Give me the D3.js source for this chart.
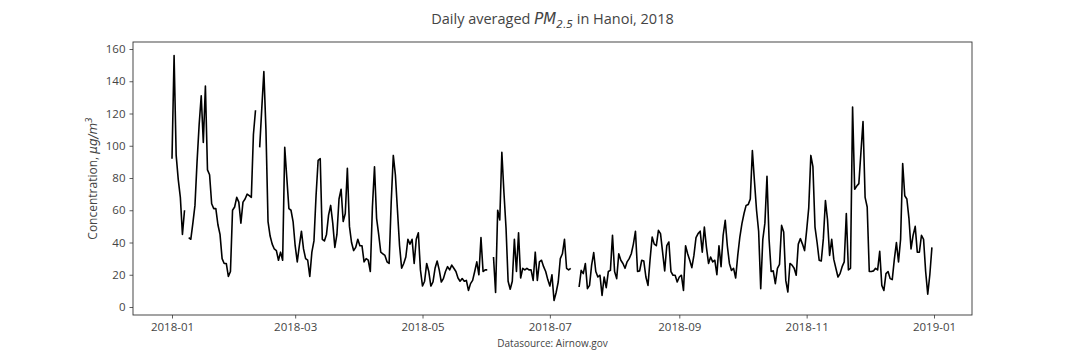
<!DOCTYPE html>
<html><head><meta charset="utf-8">
<script src="https://cdn.jsdelivr.net/npm/d3@7"></script>
<style>
body{margin:0;background:#fff;}
text{font-family:"Open Sans",sans-serif;}
</style></head>
<body><svg id="c" width="1080" height="360"></svg>
<script>
// Daily averaged PM2.5 (µg/m³), Hanoi 2018, one array per month (null = missing)
const jan = [92,156,94,79,68,45,60,null,43,42,52,63,90,113,131,102,137,85,82,64,61,61,51,45,30,27,27,19,22,60,62];
const feb = [68,65,52,65,67,70,69,68,107,122,null,99,123,146,110,53,44,39,36,35,29,34,29,99,80,61,60,53];
const mar = [38,28,38,47,36,30,29,19,34,41,69,91,92,42,41,45,57,63,52,37,45,67,73,53,58,86,50,40,35,37,42];
const apr = [38,38,28,30,29,22,62,87,55,45,34,33,32,28,27,65,94,82,60,38,24,27,31,42,39,42,27,42,46,23];
const may = [13,16,27,22,13,15.5,24,28.5,23,15.5,17.6,22,25,23,26,24,22,18,16,17.6,16,16.5,10.3,14.5,16.5,22,28,20,43,22,23];
const jun = [23,null,null,31,9,60,54,96,71,49,16,11,16,42,22,46,18,24,23,24,23,23,16.5,34,16.5,28,29,25,22,17];
const jul = [13,20,4,9,15.5,30,33,42,24,23,24,null,null,null,12.4,22.7,20.7,27,11.4,13.4,26,33.7,22,18.6,19.7,7.2,18.6,12,22,22.7,44.5];
const aug = [22,17.6,33,29,27,24,28,30,33,39,47,22,22.4,29,28.5,18.6,13.4,29.5,43.4,39,38,47.5,45.5,34,22.4,38,40.3,22,19.7,19.7,15.5];
const sep = [18.6,19.7,10.3,38,33,29,24.4,32,43,45.5,47,34,49.6,37,27,31,28,29,20,38,25,44.5,53.7,38,27,22.7,24,18,32,43.4];
const oct = [51.7,58,63,63.5,67,97,78,60,47,11.4,42,52,81,42,22,22.4,14.5,24,26.5,50.6,46.5,16.5,9.3,27,26,24,19.7,39,42.4,39,35];
const nov = [47.5,61.5,94,87,49.6,40,29,28.5,42.4,66,54,32,42,29.5,24,18.6,20.7,25,28,58,23,24,124,73,75,76.5,96,115,68,62];
const dec = [22,22,22.4,24,23,34.5,13.4,10.3,20.7,22,17.6,17,29.5,40,28,42,89,69,67,55,36,44.5,50,34,34,44.5,42,22,8,20,37];
const months = [jan,feb,mar,apr,may,jun,jul,aug,sep,oct,nov,dec];
const yTicks = [0,20,40,60,80,100,120,140,160];
const xTickDates = ["2018-01-01","2018-03-01","2018-05-01","2018-07-01","2018-09-01","2018-11-01","2019-01-01"];

const data = [];
months.forEach((arr, m) => arr.forEach((v, i) => data.push({date: new Date(Date.UTC(2018, m, i + 1)), v})));

const svg = d3.select("#c");
const L = 133, R = 972, T = 42, B = 315;
const dayMs = 864e5;
const t0 = Date.UTC(2018,0,1), t1 = Date.UTC(2019,0,1);
const pxPerMs = (934 - 172) / (t1 - t0);
const x = d3.scaleUtc()
  .domain([new Date(t0 - (172 - L) / pxPerMs), new Date(t1 + (R - 934) / pxPerMs)])
  .range([L, R]);
const y = d3.scaleLinear().domain([(307 - B) / 1.6125, (307 - T) / 1.6125]).range([B, T]);

const line = d3.line().defined(d => d.v != null).x(d => x(d.date)).y(d => y(d.v));
svg.append("path").datum(data).attr("d", line)
  .attr("fill", "none").attr("stroke", "#000").attr("stroke-width", 1.6).attr("stroke-linejoin", "round");

// axes
const xAxis = d3.axisBottom(x).tickValues(xTickDates.map(s => new Date(s + "T00:00:00Z")))
  .tickFormat(d3.utcFormat("%Y-%m")).tickSizeOuter(0).tickSize(3.5).tickPadding(4);
const gx = svg.append("g").attr("transform", `translate(0,${B})`).call(xAxis);
const yAxis = d3.axisLeft(y).tickValues(yTicks).tickSizeOuter(0).tickSize(3.5).tickPadding(4);
const gy = svg.append("g").attr("transform", `translate(${L},0)`).call(yAxis);
[gx, gy].forEach(g => {
  g.select(".domain").remove();
  g.selectAll(".tick line").attr("stroke", "#333").attr("stroke-width", 0.8);
  g.selectAll(".tick text").attr("fill", "#444").style("font-size", "11.5px").style("font-family", "Open Sans");
});
svg.append("rect").attr("x", L).attr("y", T).attr("width", R - L).attr("height", B - T)
  .attr("fill", "none").attr("stroke", "#333").attr("stroke-width", 0.9);

// title
const title = svg.append("text").attr("x", (L + R) / 2).attr("y", 24).attr("text-anchor", "middle")
  .attr("fill", "#444").style("font-size", "14.5px");
title.append("tspan").text("Daily averaged ");
title.append("tspan").text("PM").style("font-style", "italic").style("font-family", "DejaVu Sans").style("font-size", "15px");
title.append("tspan").text("2.5").attr("dy", 4).style("font-size", "10.5px").style("font-style", "italic").style("font-family", "DejaVu Sans");
title.append("tspan").text(" in Hanoi, 2018").attr("dy", -4);

// y label
const yl = svg.append("text").attr("transform", `translate(97,${(T + B) / 2}) rotate(-90)`)
  .attr("text-anchor", "middle").attr("fill", "#444").style("font-size", "12px");
yl.append("tspan").text("Concentration, ");
yl.append("tspan").text("μg/m").style("font-style", "italic").style("font-family", "DejaVu Sans");
yl.append("tspan").text("3").attr("dy", -5).style("font-size", "8.5px").style("font-family", "DejaVu Sans").style("font-style", "italic");

// footer
svg.append("text").attr("x", (L + R) / 2).attr("y", 347).attr("text-anchor", "middle")
  .attr("fill", "#444").style("font-size", "10px").text("Datasource: Airnow.gov");
</script></body></html>
